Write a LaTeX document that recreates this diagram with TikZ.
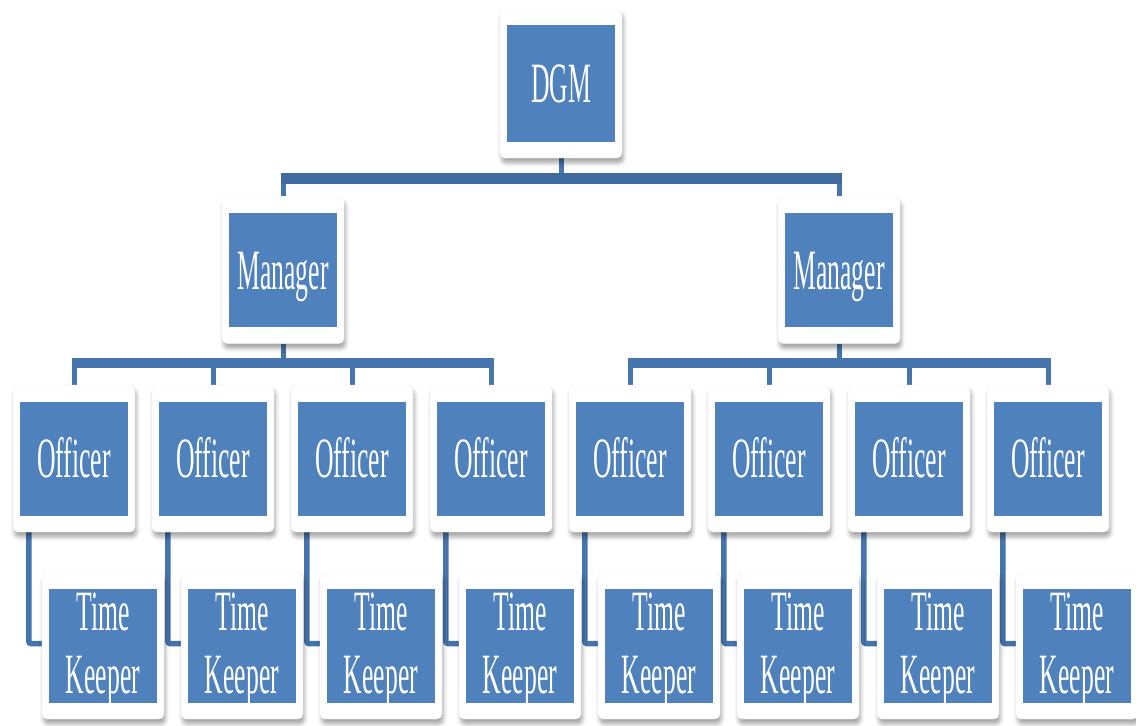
\documentclass[tikz,border=0pt]{standalone}
\usepackage{fontspec}
\usetikzlibrary{calc,backgrounds,shadows.blur}
\newfontfamily\cardfont[FakeStretch=0.45]{Liberation Serif}
\definecolor{boxblue}{HTML}{4F81BD}
\definecolor{busblue}{HTML}{3F6A9E}
\definecolor{linkblue}{HTML}{4675AE}
\tikzset{
  card/.style={fill=white, draw=black!7, rounded corners=5pt,
    minimum width=122pt, minimum height=147pt, inner sep=0pt,
    blur shadow={shadow xshift=1.5pt, shadow yshift=-5pt,
      shadow blur radius=4pt, shadow opacity=35}},
  box/.style={fill=boxblue, text=white, minimum width=108pt,
    minimum height=114pt, inner sep=0pt, align=center,
    font=\cardfont\fontsize{57}{63}\selectfont,
    text height=38pt, text depth=0pt},
  twoline/.style={text height=101pt, text depth=6pt},
  topbus/.style={draw=busblue, line width=11pt,
    shorten <=-2.5pt, shorten >=-2.5pt},
  subbus/.style={draw=linkblue, line width=10pt,
    shorten <=-2.5pt, shorten >=-2.5pt},
  drop/.style={draw=linkblue, line width=5pt},
  tkline/.style={draw=linkblue, line width=5.5pt, rounded corners=2pt}
}
% one card: white backing card plus the blue title box
\newcommand\orgcard[5][]{%
  \node[card] (#2c) at (#3,#4) {};
  \node[box,#1] (#2) at (#3,#4) {#5};}
\begin{document}
\begin{tikzpicture}[x=1pt,y=-1pt]
\useasboundingbox (0,0) rectangle (1136,726);

% top level
\node[card, minimum height=149pt] (dgmc) at (561,83.5) {};
\node[box, minimum height=117pt] (dgm) at (561,83.5) {DGM};

% managers
\orgcard{mL}{283}{270}{Manager}
\orgcard{mR}{839}{270}{Manager}

% officers and time keepers
\foreach \i/\x in {1/74,2/213,3/352,4/491,5/630,6/769,7/909,8/1048}{
  \orgcard{o\i}{\x}{458.5}{Officer}
  \orgcard[twoline]{t\i}{\x+29}{645.5}{Time\\Keeper}
}

\coordinate (bus0) at (561,178.5);
\coordinate (busL) at (283,362.5);
\coordinate (busR) at (839,362.5);

\begin{scope}[on background layer]
  % DGM to managers
  \draw[drop] (dgmc.south) -- (bus0);
  \draw[drop] (mLc.north) -- (mLc.north |- bus0);
  \draw[drop] (mRc.north) -- (mRc.north |- bus0);
  \draw[topbus] (mLc.north |- bus0) -- (mRc.north |- bus0);
  % managers to officers
  \draw[drop] (mLc.south) -- (busL);
  \draw[drop] (mRc.south) -- (busR);
  \foreach \i in {1,2,3,4}{
    \draw[drop] (o\i c.north) -- (o\i c.north |- busL);}
  \foreach \i in {5,6,7,8}{
    \draw[drop] (o\i c.north) -- (o\i c.north |- busR);}
  \draw[subbus] (o1c.north |- busL) -- (o4c.north |- busL);
  \draw[subbus] (o5c.north |- busR) -- (o8c.north |- busR);
  % officers to time keepers
  \foreach \i in {1,...,8}{
    \draw[tkline] ($(o\i c.south west)+(16,0)$) |- ($(t\i c.west)+(1,-2)$);}
\end{scope}
\end{tikzpicture}
\end{document}
